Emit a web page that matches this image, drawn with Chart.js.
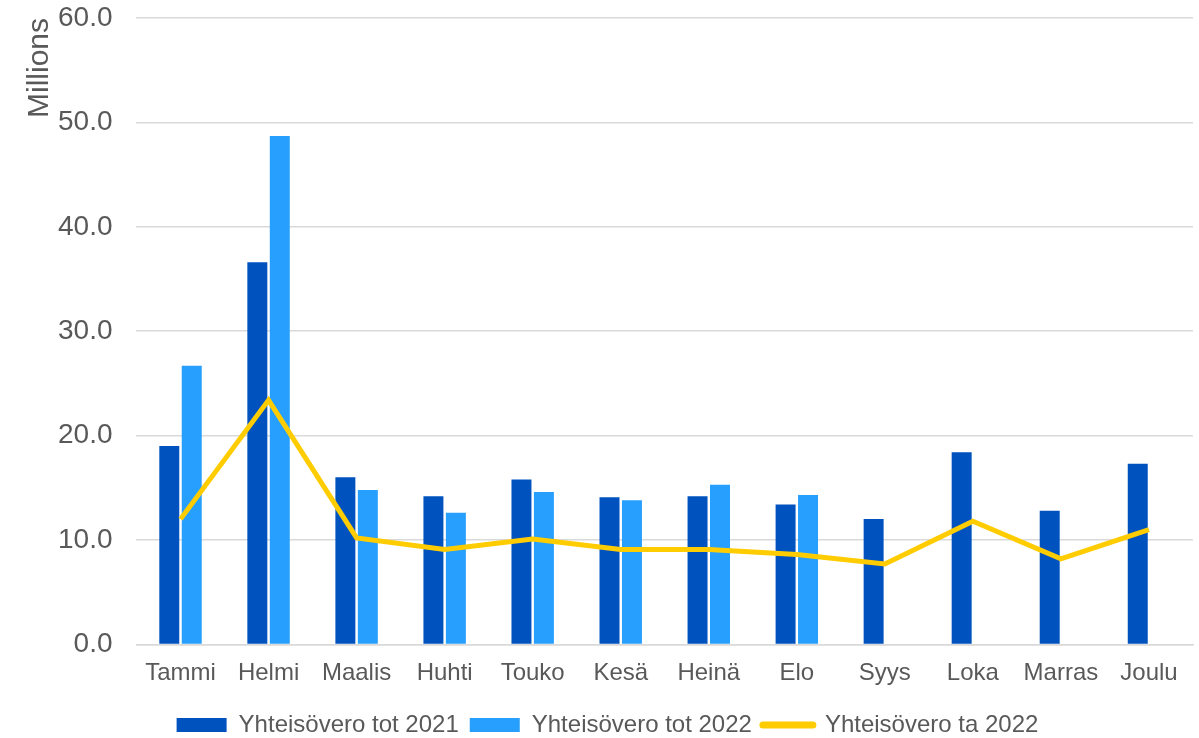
<!DOCTYPE html>
<html>
<head>
<meta charset="utf-8">
<script src="https://cdn.jsdelivr.net/npm/chart.js@4/dist/chart.umd.min.js"></script>
<style>
  html, body { margin: 0; padding: 0; background: #fff; }
  #wrap { width: 1199px; height: 738px; }
</style>
</head>
<body>
<div id="wrap"><canvas id="chart" width="1199" height="738"></canvas></div>
<script>
var months = ['Tammi', 'Helmi', 'Maalis', 'Huhti', 'Touko', 'Kesä', 'Heinä', 'Elo', 'Syys', 'Loka', 'Marras', 'Joulu'];
var tot2021 = [19.0, 36.6, 16.0, 14.2, 15.8, 14.1, 14.2, 13.4, 12.0, 18.4, 12.8, 17.3];
var tot2022 = [26.7, 48.7, 14.8, 12.6, 14.6, 13.8, 15.3, 14.3, null, null, null, null];
var ta2022 = [12.0, 23.4, 10.2, 9.1, 10.1, 9.1, 9.1, 8.6, 7.7, 11.8, 8.2, 11.0];

var textColor = '#595959';
var gridColor = '#D9D9D9';
var font = 'Liberation Sans, Arial, sans-serif';

new Chart(document.getElementById('chart').getContext('2d'), {
  type: 'bar',
  data: {
    labels: months,
    datasets: [{
      label: 'Yhteisövero tot 2021',
      data: tot2021,
      backgroundColor: '#0052BF',
      categoryPercentage: 0.51,
      barPercentage: 0.89,
      order: 2
    }, {
      label: 'Yhteisövero tot 2022',
      data: tot2022,
      backgroundColor: '#269FFF',
      categoryPercentage: 0.51,
      barPercentage: 0.89,
      order: 2
    }, {
      type: 'line',
      label: 'Yhteisövero ta 2022',
      data: ta2022,
      borderColor: '#FFCC00',
      backgroundColor: '#FFCC00',
      borderWidth: 5,
      pointRadius: 0,
      tension: 0,
      order: 1
    }]
  },
  options: {
    responsive: false,
    animation: false,
    layout: { padding: { top: 18, right: 6, left: 22, bottom: -9 } },
    plugins: {
      tooltip: { enabled: false },
      legend: {
        position: 'bottom',
        labels: {
          color: textColor,
          font: { family: font, size: 24 },
          usePointStyle: true,
          pointStyleWidth: 50,
          boxHeight: 14,
          padding: 11,
          sort: function (a, b) { return a.datasetIndex - b.datasetIndex; },
          generateLabels: function (chart) {
            var items = Chart.defaults.plugins.legend.labels.generateLabels(chart);
            items.forEach(function (it) {
              if (it.datasetIndex === 2) {
                it.pointStyle = 'line';
                it.lineWidth = 7;
                it.strokeStyle = '#FFCC00';
                it.lineCap = 'round';
              } else {
                it.pointStyle = 'rect';
                it.lineWidth = 0;
              }
            });
            return items;
          }
        }
      }
    },
    scales: {
      x: {
        grid: { display: false, drawTicks: false },
        border: { color: gridColor, width: 1.5 },
        ticks: {
          color: textColor,
          font: { family: font, size: 24, lineHeight: 0.65 },
          padding: 21,
          maxRotation: 0
        }
      },
      y: {
        min: 0,
        max: 60,
        grid: { color: gridColor, lineWidth: 1.5, drawTicks: true, tickLength: 24, tickColor: 'rgba(0,0,0,0)' },
        border: { display: false },
        ticks: {
          stepSize: 10,
          color: textColor,
          font: { family: font, size: 28 },
          padding: 0,
          callback: function (v) { return v.toFixed(1); }
        },
        title: {
          display: true,
          text: 'Millions',
          align: 'end',
          color: textColor,
          font: { family: font, size: 30 },
          padding: { top: 0, bottom: 0 }
        }
      }
    }
  }
});
</script>
</body>
</html>
